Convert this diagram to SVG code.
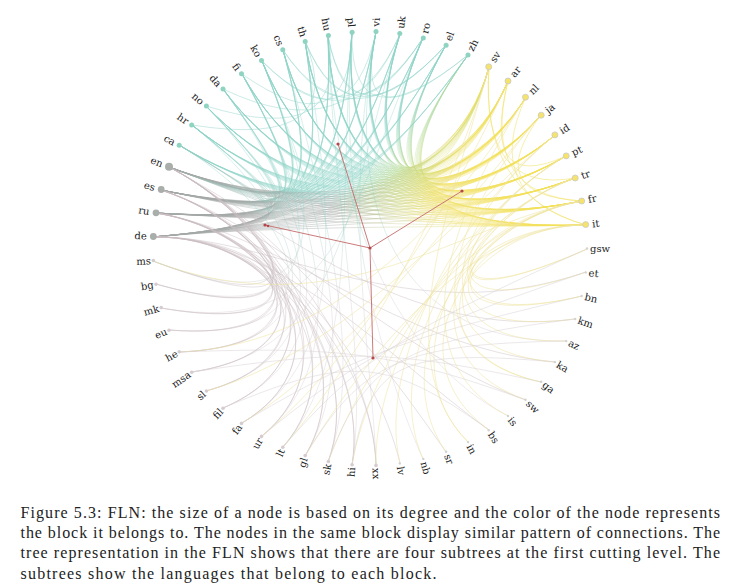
<svg xmlns="http://www.w3.org/2000/svg" width="740" height="585" viewBox="0 0 740 585">
<defs>
<linearGradient id="gTY" gradientUnits="userSpaceOnUse" x1="454.5" y1="43" x2="514.5" y2="88"><stop offset="0" stop-color="#8dd3c7"/><stop offset=".45" stop-color="#bcdb90"/><stop offset="1" stop-color="#f2e05a"/></linearGradient>
<linearGradient id="gTG" gradientUnits="userSpaceOnUse" x1="182" y1="138" x2="164" y2="179"><stop offset="0" stop-color="#8dd3c7"/><stop offset=".5" stop-color="#9cbfb7"/><stop offset="1" stop-color="#a3a8a6"/></linearGradient>
<linearGradient id="gGY" gradientUnits="userSpaceOnUse" x1="330" y1="0" x2="475" y2="0"><stop offset="0" stop-color="#a3a8a6"/><stop offset=".5" stop-color="#cfd294"/><stop offset="1" stop-color="#f2e05a"/></linearGradient>
<linearGradient id="gBT" gradientUnits="userSpaceOnUse" x1="0" y1="300" x2="0" y2="205"><stop offset="0" stop-color="#d2c6ca"/><stop offset="1" stop-color="#8dd3c7"/></linearGradient>
</defs>
<style>
#edges{fill:none;stroke-width:1}
.ty{stroke:url(#gTY);stroke-opacity:.33}
.tg{stroke:url(#gTG);stroke-opacity:.4}
.gy{stroke:url(#gGY);stroke-opacity:.4}
.tt{stroke:#8dd3c7;stroke-opacity:.45}
.yy{stroke:#f0df5a;stroke-opacity:.5}
.bg{stroke:#c9bcc1;stroke-opacity:.45}
.bt{stroke:url(#gBT);stroke-opacity:.35}
.by{stroke:#eee4a0;stroke-opacity:.55}
.br{stroke:#d9d2d4;stroke-opacity:.5}
.tree line{stroke:#c56a6c;stroke-width:1;stroke-opacity:.9}
.tree circle{fill:#b5474c}
.l{font-family:"DejaVu Serif",serif;font-size:10px;fill:#222;dominant-baseline:central}
.end{text-anchor:end}
.cr{fill:#d2d2d2}
.cp{fill:#d6ccd0}
.cg{fill:#a9aeab}
.ct{fill:#8fd3c1}
.cy{fill:#f6e36c;stroke:#c9c9c9;stroke-width:.8}
.cap{font-family:"Liberation Serif",serif;font-size:16px;fill:#222}
</style>
<rect width="740" height="585" fill="#fff"/>
<g id="edges">
<g class="ty">
<path d="M179 145C312 226 452 204 489 67M179 145C312 226 455 206 508 81M179 145C312 226 457 208 526 97M179 145C312 226 459 211 541 115M179 145C312 226 462 214 555 135M179 145C312 226 463 217 566 156M179 145C312 226 465 221 575 178M179 145C312 226 466 224 582 201M179 145C312 226 466 228 586 225"/>
<path d="M192 125C313 223 452 204 489 67M192 125C313 223 455 206 508 81M192 125C313 223 457 208 526 97M192 125C313 223 459 211 541 115M192 125C313 223 462 214 555 135M192 125C313 223 463 217 566 156M192 125C313 223 465 221 575 178M192 125C313 223 466 224 582 201M192 125C313 223 466 228 586 225"/>
<path d="M206 106C316 220 452 204 489 67M206 106C316 220 455 206 508 81M206 106C316 220 457 208 526 97M206 106C316 220 459 211 541 115M206 106C316 220 462 214 555 135M206 106C316 220 463 217 566 156M206 106C316 220 465 221 575 178M206 106C316 220 466 224 582 201M206 106C316 220 466 228 586 225"/>
<path d="M223 89C318 217 452 204 489 67M223 89C318 217 455 206 508 81M223 89C318 217 457 208 526 97M223 89C318 217 459 211 541 115M223 89C318 217 462 214 555 135M223 89C318 217 463 217 566 156M223 89C318 217 465 221 575 178M223 89C318 217 466 224 582 201M223 89C318 217 466 228 586 225"/>
<path d="M242 74C321 215 452 204 489 67M242 74C321 215 455 206 508 81M242 74C321 215 457 208 526 97M242 74C321 215 459 211 541 115M242 74C321 215 462 214 555 135M242 74C321 215 463 217 566 156M242 74C321 215 465 221 575 178M242 74C321 215 466 224 582 201M242 74C321 215 466 228 586 225"/>
<path d="M262 61C324 213 452 204 489 67M262 61C324 213 455 206 508 81M262 61C324 213 457 208 526 97M262 61C324 213 459 211 541 115M262 61C324 213 462 214 555 135M262 61C324 213 463 217 566 156M262 61C324 213 465 221 575 178M262 61C324 213 466 224 582 201M262 61C324 213 466 228 586 225"/>
<path d="M283 50C327 212 452 204 489 67M283 50C327 212 455 206 508 81M283 50C327 212 457 208 526 97M283 50C327 212 459 211 541 115M283 50C327 212 462 214 555 135M283 50C327 212 463 217 566 156M283 50C327 212 465 221 575 178M283 50C327 212 466 224 582 201M283 50C327 212 466 228 586 225"/>
<path d="M305 41C331 210 452 204 489 67M305 41C331 210 455 206 508 81M305 41C331 210 457 208 526 97M305 41C331 210 459 211 541 115M305 41C331 210 462 214 555 135M305 41C331 210 463 217 566 156M305 41C331 210 465 221 575 178M305 41C331 210 466 224 582 201M305 41C331 210 466 228 586 225"/>
<path d="M328 36C334 209 452 204 489 67M328 36C334 209 455 206 508 81M328 36C334 209 457 208 526 97M328 36C334 209 459 211 541 115M328 36C334 209 462 214 555 135M328 36C334 209 463 217 566 156M328 36C334 209 465 221 575 178M328 36C334 209 466 224 582 201M328 36C334 209 466 228 586 225"/>
<path d="M352 32C338 209 452 204 489 67M352 32C338 209 455 206 508 81M352 32C338 209 457 208 526 97M352 32C338 209 459 211 541 115M352 32C338 209 462 214 555 135M352 32C338 209 463 217 566 156M352 32C338 209 465 221 575 178M352 32C338 209 466 224 582 201M352 32C338 209 466 228 586 225"/>
<path d="M376 32C341 209 452 204 489 67M376 32C341 209 455 206 508 81M376 32C341 209 457 208 526 97M376 32C341 209 459 211 541 115M376 32C341 209 462 214 555 135M376 32C341 209 463 217 566 156M376 32C341 209 465 221 575 178M376 32C341 209 466 224 582 201M376 32C341 209 466 228 586 225"/>
<path d="M400 34C345 209 452 204 489 67M400 34C345 209 455 206 508 81M400 34C345 209 457 208 526 97M400 34C345 209 459 211 541 115M400 34C345 209 462 214 555 135M400 34C345 209 463 217 566 156M400 34C345 209 465 221 575 178M400 34C345 209 466 224 582 201M400 34C345 209 466 228 586 225"/>
<path d="M423 38C348 210 452 204 489 67M423 38C348 210 455 206 508 81M423 38C348 210 457 208 526 97M423 38C348 210 459 211 541 115M423 38C348 210 462 214 555 135M423 38C348 210 463 217 566 156M423 38C348 210 465 221 575 178M423 38C348 210 466 224 582 201M423 38C348 210 466 228 586 225"/>
<path d="M446 45C352 211 452 204 489 67M446 45C352 211 455 206 508 81M446 45C352 211 457 208 526 97M446 45C352 211 459 211 541 115M446 45C352 211 462 214 555 135M446 45C352 211 463 217 566 156M446 45C352 211 465 221 575 178M446 45C352 211 466 224 582 201M446 45C352 211 466 228 586 225"/>
<path d="M468 55C355 212 452 204 489 67M468 55C355 212 455 206 508 81M468 55C355 212 457 208 526 97M468 55C355 212 459 211 541 115M468 55C355 212 462 214 555 135M468 55C355 212 463 217 566 156M468 55C355 212 465 221 575 178M468 55C355 212 466 224 582 201M468 55C355 212 466 228 586 225"/>
</g>
<g class="tg">
<path d="M153 237C292 224 312 226 179 145M153 237C292 224 313 223 192 125M153 237C292 224 316 220 206 106M153 237C292 224 318 217 223 89M153 237C292 224 321 215 242 74M153 237C292 224 324 213 262 61M153 237C292 224 327 212 283 50M153 237C292 224 331 210 305 41M153 237C292 224 334 209 328 36M153 237C292 224 338 209 352 32M153 237C292 224 341 209 376 32M153 237C292 224 345 209 400 34M153 237C292 224 348 210 423 38M153 237C292 224 352 211 446 45M153 237C292 224 355 212 468 55"/>
<path d="M156 213C293 221 312 226 179 145M156 213C293 221 313 223 192 125M156 213C293 221 316 220 206 106M156 213C293 221 318 217 223 89M156 213C293 221 321 215 242 74M156 213C293 221 324 213 262 61M156 213C293 221 327 212 283 50M156 213C293 221 331 210 305 41M156 213C293 221 334 209 328 36M156 213C293 221 338 209 352 32M156 213C293 221 341 209 376 32M156 213C293 221 345 209 400 34M156 213C293 221 348 210 423 38M156 213C293 221 352 211 446 45M156 213C293 221 355 212 468 55"/>
<path d="M161 190C293 217 312 226 179 145M161 190C293 217 313 223 192 125M161 190C293 217 316 220 206 106M161 190C293 217 318 217 223 89M161 190C293 217 321 215 242 74M161 190C293 217 324 213 262 61M161 190C293 217 327 212 283 50M161 190C293 217 331 210 305 41M161 190C293 217 334 209 328 36M161 190C293 217 338 209 352 32M161 190C293 217 341 209 376 32M161 190C293 217 345 209 400 34M161 190C293 217 348 210 423 38M161 190C293 217 352 211 446 45M161 190C293 217 355 212 468 55"/>
<path d="M169 167C295 214 312 226 179 145M169 167C295 214 313 223 192 125M169 167C295 214 316 220 206 106M169 167C295 214 318 217 223 89M169 167C295 214 321 215 242 74M169 167C295 214 324 213 262 61M169 167C295 214 327 212 283 50M169 167C295 214 331 210 305 41M169 167C295 214 334 209 328 36M169 167C295 214 338 209 352 32M169 167C295 214 341 209 376 32M169 167C295 214 345 209 400 34M169 167C295 214 348 210 423 38M169 167C295 214 352 211 446 45M169 167C295 214 355 212 468 55"/>
</g>
<g class="gy">
<path d="M153 237C292 224 452 204 489 67M153 237C292 224 455 206 508 81M153 237C292 224 457 208 526 97M153 237C292 224 459 211 541 115M153 237C292 224 462 214 555 135M153 237C292 224 463 217 566 156M153 237C292 224 465 221 575 178M153 237C292 224 466 224 582 201M153 237C292 224 466 228 586 225"/>
<path d="M156 213C293 221 452 204 489 67M156 213C293 221 455 206 508 81M156 213C293 221 457 208 526 97M156 213C293 221 459 211 541 115M156 213C293 221 462 214 555 135M156 213C293 221 463 217 566 156M156 213C293 221 465 221 575 178M156 213C293 221 466 224 582 201M156 213C293 221 466 228 586 225"/>
<path d="M161 190C293 217 452 204 489 67M161 190C293 217 455 206 508 81M161 190C293 217 457 208 526 97M161 190C293 217 459 211 541 115M161 190C293 217 462 214 555 135M161 190C293 217 463 217 566 156M161 190C293 217 465 221 575 178M161 190C293 217 466 224 582 201M161 190C293 217 466 228 586 225"/>
<path d="M169 167C295 214 452 204 489 67M169 167C295 214 455 206 508 81M169 167C295 214 457 208 526 97M169 167C295 214 459 211 541 115M169 167C295 214 462 214 555 135M169 167C295 214 463 217 566 156M169 167C295 214 465 221 575 178M169 167C295 214 466 224 582 201M169 167C295 214 466 228 586 225"/>
</g>
<g class="tt">
<path d="M305 41Q350 150 446 45M328 36Q350 150 423 38M283 50Q350 150 400 34M262 61Q350 150 376 32M242 74Q350 150 352 32M352 32Q350 150 468 55M328 36Q350 150 446 45M305 41Q350 150 423 38M376 32Q350 150 468 55M283 50Q350 150 446 45M223 89Q350 150 400 34M262 61Q350 150 423 38M206 106Q350 150 328 36M192 125Q350 150 305 41"/>
</g>
<g class="yy">
<path d="M489 67Q480 195 586 225M508 81Q480 195 582 201M489 67Q480 195 575 178M526 97Q480 195 586 225M508 81Q480 195 566 156M541 115Q480 195 582 201"/>
</g>
<g class="bg">
<path d="M376 465C373 363 278 235 153 237M376 465C373 363 280 225 169 167M352 465C369 363 278 232 156 213M352 465C369 363 279 228 161 190M328 462C365 362 278 235 153 237M328 462C365 362 278 232 156 213M305 456C362 362 279 228 161 190M305 456C362 362 280 225 169 167M283 447C359 360 278 235 153 237M283 447C359 360 279 228 161 190M262 436C355 359 278 232 156 213M262 436C355 359 280 225 169 167M242 423C352 357 278 235 153 237M242 423C352 357 278 232 156 213M223 408C350 354 279 228 161 190M223 408C350 354 280 225 169 167M206 391C347 352 278 235 153 237M206 391C347 352 280 225 169 167M192 372C345 349 278 232 156 213M192 372C345 349 279 228 161 190M179 352C343 346 278 235 153 237M179 352C343 346 279 228 161 190M169 330C342 343 278 232 156 213M169 330C342 343 280 225 169 167M161 308C340 339 278 235 153 237M161 308C340 339 278 232 156 213M156 284C340 336 279 228 161 190M156 284C340 336 280 225 169 167M153 261C339 332 278 235 153 237M153 261C339 332 280 225 169 167"/>
<path d="M586 272C404 334 278 235 153 237M575 319C402 341 280 225 169 167M555 362C399 348 278 232 156 213M526 400C395 353 279 228 161 190M489 430C389 358 278 235 153 237M446 452C383 361 280 225 169 167M400 463C376 363 278 232 156 213"/>
</g>
<g class="bt">
<path d="M376 465C373 363 341 209 376 32M352 465C369 363 334 209 328 36M328 462C365 362 327 212 283 50M305 456C362 362 324 213 262 61M283 447C359 360 338 209 352 32M262 436C355 359 321 215 242 74M242 423C352 357 331 210 305 41M223 408C350 354 318 217 223 89M206 391C347 352 316 220 206 106M192 372C345 349 345 209 400 34M179 352C343 346 313 223 192 125M169 330C342 343 312 226 179 145M161 308C340 339 348 210 423 38M156 284C340 336 321 215 242 74M153 261C339 332 324 213 262 61"/>
<path d="M566 341C401 344 341 209 376 32M508 416C392 356 334 209 328 36M423 459C380 362 338 209 352 32"/>
</g>
<g class="by">
<path d="M376 465C373 363 463 215 566 156M352 465C369 363 464 218 575 178M328 462C365 362 465 221 582 201M305 456C362 362 466 225 586 225M242 423C352 357 459 208 541 115M206 391C347 352 461 211 555 135M179 352C343 346 457 206 526 97M153 261C339 332 465 221 582 201M283 447C359 360 452 201 489 67M262 436C355 359 454 203 508 81"/>
<path d="M587 249C404 330 466 225 586 225M587 249C404 330 465 221 582 201M586 272C404 334 464 218 575 178M582 296C403 338 463 215 566 156M582 296C403 338 466 225 586 225M575 319C402 341 465 221 582 201M566 341C401 344 461 211 555 135M555 362C399 348 464 218 575 178M541 382C397 350 459 208 541 115M541 382C397 350 465 221 582 201M526 400C395 353 463 215 566 156M508 416C392 356 457 206 526 97M489 430C389 358 466 225 586 225M468 442C386 360 464 218 575 178M468 442C386 360 452 201 489 67M446 452C383 361 465 221 582 201M423 459C380 362 463 215 566 156M400 463C376 363 461 211 555 135"/>
</g>
<g class="br">
<path d="M587 249C404 330 359 360 283 447M586 272C404 334 355 359 262 436M582 296C403 338 352 357 242 423M575 319C402 341 365 362 328 462M566 341C401 344 362 362 305 456M555 362C399 348 369 363 352 465M489 430C389 358 350 354 223 408M541 382C397 350 345 349 192 372M526 400C395 353 343 346 179 352"/>
</g>
</g>
<g class="tree" id="tree">
<line x1="370" y1="248" x2="338" y2="144"/>
<line x1="370" y1="248" x2="462" y2="191"/>
<line x1="370" y1="248" x2="265" y2="225"/>
<line x1="370" y1="248" x2="373" y2="358"/>
<circle cx="370" cy="248" r="1.6"/>
<circle cx="338" cy="144" r="1.6"/>
<circle cx="462" cy="191" r="1.6"/>
<circle cx="265" cy="225" r="1.6"/>
<circle cx="268" cy="226" r="1.3"/>
<circle cx="373" cy="358" r="1.6"/>
</g>
<g id="nodes">
<g id="n-gsw"><circle class="cr" cx="587" cy="248.5" r="1.2"/><text class="l" transform="rotate(0 370 248.5)" x="590" y="248.5">gsw</text></g>
<g id="n-et"><circle class="cr" cx="585.7" cy="272.4" r="1.2"/><text class="l" transform="rotate(6.32 370 248.5)" x="590" y="248.5">et</text></g>
<g id="n-bn"><circle class="cr" cx="581.7" cy="296" r="1.2"/><text class="l" transform="rotate(12.63 370 248.5)" x="590" y="248.5">bn</text></g>
<g id="n-km"><circle class="cr" cx="575.2" cy="319" r="1.2"/><text class="l" transform="rotate(18.95 370 248.5)" x="590" y="248.5">km</text></g>
<g id="n-az"><circle class="cr" cx="566.2" cy="341.1" r="1.2"/><text class="l" transform="rotate(25.26 370 248.5)" x="590" y="248.5">az</text></g>
<g id="n-ka"><circle class="cr" cx="554.9" cy="362.1" r="1.2"/><text class="l" transform="rotate(31.58 370 248.5)" x="590" y="248.5">ka</text></g>
<g id="n-ga"><circle class="cr" cx="541.2" cy="381.8" r="1.2"/><text class="l" transform="rotate(37.89 370 248.5)" x="590" y="248.5">ga</text></g>
<g id="n-sw"><circle class="cr" cx="525.5" cy="399.8" r="1.2"/><text class="l" transform="rotate(44.21 370 248.5)" x="590" y="248.5">sw</text></g>
<g id="n-is"><circle class="cr" cx="508" cy="416" r="1.2"/><text class="l" transform="rotate(50.53 370 248.5)" x="590" y="248.5">is</text></g>
<g id="n-bs"><circle class="cr" cx="488.7" cy="430.2" r="1.2"/><text class="l" transform="rotate(56.84 370 248.5)" x="590" y="248.5">bs</text></g>
<g id="n-in"><circle class="cr" cx="468" cy="442.1" r="1.2"/><text class="l" transform="rotate(63.16 370 248.5)" x="590" y="248.5">in</text></g>
<g id="n-sr"><circle class="cr" cx="446.1" cy="451.7" r="1.2"/><text class="l" transform="rotate(69.47 370 248.5)" x="590" y="248.5">sr</text></g>
<g id="n-nb"><circle class="cr" cx="423.3" cy="458.9" r="1.2"/><text class="l" transform="rotate(75.79 370 248.5)" x="590" y="248.5">nb</text></g>
<g id="n-lv"><circle class="cr" cx="399.8" cy="463.4" r="1.2"/><text class="l" transform="rotate(82.11 370 248.5)" x="590" y="248.5">lv</text></g>
<g id="n-xx"><circle class="cp" cx="376" cy="465.4" r="1.8"/><text class="l" transform="rotate(88.42 370 248.5)" x="589.5" y="248.5">xx</text></g>
<g id="n-hi"><circle class="cp" cx="352.1" cy="464.8" r="1.8"/><text class="l end" transform="rotate(-85.26 370 248.5)" x="150.5" y="248.5">hi</text></g>
<g id="n-sk"><circle class="cp" cx="328.4" cy="461.5" r="1.8"/><text class="l end" transform="rotate(-78.95 370 248.5)" x="150.5" y="248.5">sk</text></g>
<g id="n-gl"><circle class="cp" cx="305.2" cy="455.6" r="1.8"/><text class="l end" transform="rotate(-72.63 370 248.5)" x="150.5" y="248.5">gl</text></g>
<g id="n-lt"><circle class="cp" cx="282.8" cy="447.2" r="1.8"/><text class="l end" transform="rotate(-66.32 370 248.5)" x="150.5" y="248.5">lt</text></g>
<g id="n-ur"><circle class="cp" cx="261.5" cy="436.4" r="1.8"/><text class="l end" transform="rotate(-60 370 248.5)" x="150.5" y="248.5">ur</text></g>
<g id="n-fa"><circle class="cp" cx="241.5" cy="423.4" r="1.8"/><text class="l end" transform="rotate(-53.68 370 248.5)" x="150.5" y="248.5">fa</text></g>
<g id="n-fil"><circle class="cp" cx="223" cy="408.2" r="1.8"/><text class="l end" transform="rotate(-47.37 370 248.5)" x="150.5" y="248.5">fil</text></g>
<g id="n-sl"><circle class="cp" cx="206.4" cy="391" r="1.8"/><text class="l end" transform="rotate(-41.05 370 248.5)" x="150.5" y="248.5">sl</text></g>
<g id="n-msa"><circle class="cp" cx="191.7" cy="372.2" r="1.8"/><text class="l end" transform="rotate(-34.74 370 248.5)" x="150.5" y="248.5">msa</text></g>
<g id="n-he"><circle class="cp" cx="179.2" cy="351.8" r="1.8"/><text class="l end" transform="rotate(-28.42 370 248.5)" x="150.5" y="248.5">he</text></g>
<g id="n-eu"><circle class="cp" cx="169" cy="330.2" r="1.8"/><text class="l end" transform="rotate(-22.11 370 248.5)" x="150.5" y="248.5">eu</text></g>
<g id="n-mk"><circle class="cp" cx="161.2" cy="307.6" r="1.8"/><text class="l end" transform="rotate(-15.79 370 248.5)" x="150.5" y="248.5">mk</text></g>
<g id="n-bg"><circle class="cp" cx="156" cy="284.2" r="1.8"/><text class="l end" transform="rotate(-9.47 370 248.5)" x="150.5" y="248.5">bg</text></g>
<g id="n-ms"><circle class="cp" cx="153.3" cy="260.5" r="1.8"/><text class="l end" transform="rotate(-3.16 370 248.5)" x="150.5" y="248.5">ms</text></g>
<g id="n-de"><circle class="cg" cx="153.3" cy="236.5" r="3.4"/><text class="l end" transform="rotate(3.16 370 248.5)" x="146.5" y="248.5">de</text></g>
<g id="n-ru"><circle class="cg" cx="156" cy="212.8" r="3.4"/><text class="l end" transform="rotate(9.47 370 248.5)" x="146.5" y="248.5">ru</text></g>
<g id="n-es"><circle class="cg" cx="161.2" cy="189.5" r="3.4"/><text class="l end" transform="rotate(15.79 370 248.5)" x="146.5" y="248.5">es</text></g>
<g id="n-en"><circle class="cg" cx="169" cy="166.8" r="4"/><text class="l end" transform="rotate(22.11 370 248.5)" x="146" y="248.5">en</text></g>
<g id="n-ca"><circle class="ct" cx="179.2" cy="145.2" r="2.5"/><text class="l end" transform="rotate(28.42 370 248.5)" x="148" y="248.5">ca</text></g>
<g id="n-hr"><circle class="ct" cx="191.7" cy="124.9" r="2.5"/><text class="l end" transform="rotate(34.74 370 248.5)" x="148" y="248.5">hr</text></g>
<g id="n-no"><circle class="ct" cx="206.4" cy="106" r="2.5"/><text class="l end" transform="rotate(41.05 370 248.5)" x="148" y="248.5">no</text></g>
<g id="n-da"><circle class="ct" cx="223" cy="88.9" r="2.5"/><text class="l end" transform="rotate(47.37 370 248.5)" x="148" y="248.5">da</text></g>
<g id="n-fi"><circle class="ct" cx="241.5" cy="73.7" r="2.5"/><text class="l end" transform="rotate(53.68 370 248.5)" x="148" y="248.5">fi</text></g>
<g id="n-ko"><circle class="ct" cx="261.5" cy="60.6" r="2.5"/><text class="l end" transform="rotate(60 370 248.5)" x="148" y="248.5">ko</text></g>
<g id="n-cs"><circle class="ct" cx="282.8" cy="49.8" r="2.5"/><text class="l end" transform="rotate(66.32 370 248.5)" x="148" y="248.5">cs</text></g>
<g id="n-th"><circle class="ct" cx="305.2" cy="41.4" r="2.5"/><text class="l end" transform="rotate(72.63 370 248.5)" x="148" y="248.5">th</text></g>
<g id="n-hu"><circle class="ct" cx="328.4" cy="35.5" r="2.5"/><text class="l end" transform="rotate(78.95 370 248.5)" x="148" y="248.5">hu</text></g>
<g id="n-pl"><circle class="ct" cx="352.1" cy="32.2" r="2.5"/><text class="l end" transform="rotate(85.26 370 248.5)" x="148" y="248.5">pl</text></g>
<g id="n-vi"><circle class="ct" cx="376" cy="31.6" r="2.5"/><text class="l" transform="rotate(-88.42 370 248.5)" x="592" y="248.5">vi</text></g>
<g id="n-uk"><circle class="ct" cx="399.8" cy="33.6" r="2.5"/><text class="l" transform="rotate(-82.11 370 248.5)" x="592" y="248.5">uk</text></g>
<g id="n-ro"><circle class="ct" cx="423.3" cy="38.1" r="2.5"/><text class="l" transform="rotate(-75.79 370 248.5)" x="592" y="248.5">ro</text></g>
<g id="n-el"><circle class="ct" cx="446.1" cy="45.3" r="2.5"/><text class="l" transform="rotate(-69.47 370 248.5)" x="592" y="248.5">el</text></g>
<g id="n-zh"><circle class="ct" cx="468" cy="54.9" r="2.5"/><text class="l" transform="rotate(-63.16 370 248.5)" x="592" y="248.5">zh</text></g>
<g id="n-sv"><circle class="cy" cx="488.7" cy="66.8" r="3"/><text class="l" transform="rotate(-56.84 370 248.5)" x="593.5" y="248.5">sv</text></g>
<g id="n-ar"><circle class="cy" cx="508" cy="81" r="3"/><text class="l" transform="rotate(-50.53 370 248.5)" x="593.5" y="248.5">ar</text></g>
<g id="n-nl"><circle class="cy" cx="525.5" cy="97.2" r="3"/><text class="l" transform="rotate(-44.21 370 248.5)" x="593.5" y="248.5">nl</text></g>
<g id="n-ja"><circle class="cy" cx="541.2" cy="115.2" r="3"/><text class="l" transform="rotate(-37.89 370 248.5)" x="593.5" y="248.5">ja</text></g>
<g id="n-id"><circle class="cy" cx="554.9" cy="134.9" r="3"/><text class="l" transform="rotate(-31.58 370 248.5)" x="593.5" y="248.5">id</text></g>
<g id="n-pt"><circle class="cy" cx="566.2" cy="155.9" r="3"/><text class="l" transform="rotate(-25.26 370 248.5)" x="593.5" y="248.5">pt</text></g>
<g id="n-tr"><circle class="cy" cx="575.2" cy="178" r="3"/><text class="l" transform="rotate(-18.95 370 248.5)" x="593.5" y="248.5">tr</text></g>
<g id="n-fr"><circle class="cy" cx="581.7" cy="201" r="3"/><text class="l" transform="rotate(-12.63 370 248.5)" x="593.5" y="248.5">fr</text></g>
<g id="n-it"><circle class="cy" cx="585.7" cy="224.6" r="3"/><text class="l" transform="rotate(-6.32 370 248.5)" x="593.5" y="248.5">it</text></g>
</g>
<g id="caption" class="cap">
<text x="20.5" y="517.5" textLength="699.5" lengthAdjust="spacing">Figure 5.3: FLN: the size of a node is based on its degree and the color of the node represents</text>
<text x="20.5" y="538" textLength="699.5" lengthAdjust="spacing">the block it belongs to. The nodes in the same block display similar pattern of connections. The</text>
<text x="20.5" y="558" textLength="699.5" lengthAdjust="spacing">tree representation in the FLN shows that there are four subtrees at the first cutting level. The</text>
<text x="20.5" y="578.5" textLength="416" lengthAdjust="spacing">subtrees show the languages that belong to each block.</text>
</g>
</svg>
